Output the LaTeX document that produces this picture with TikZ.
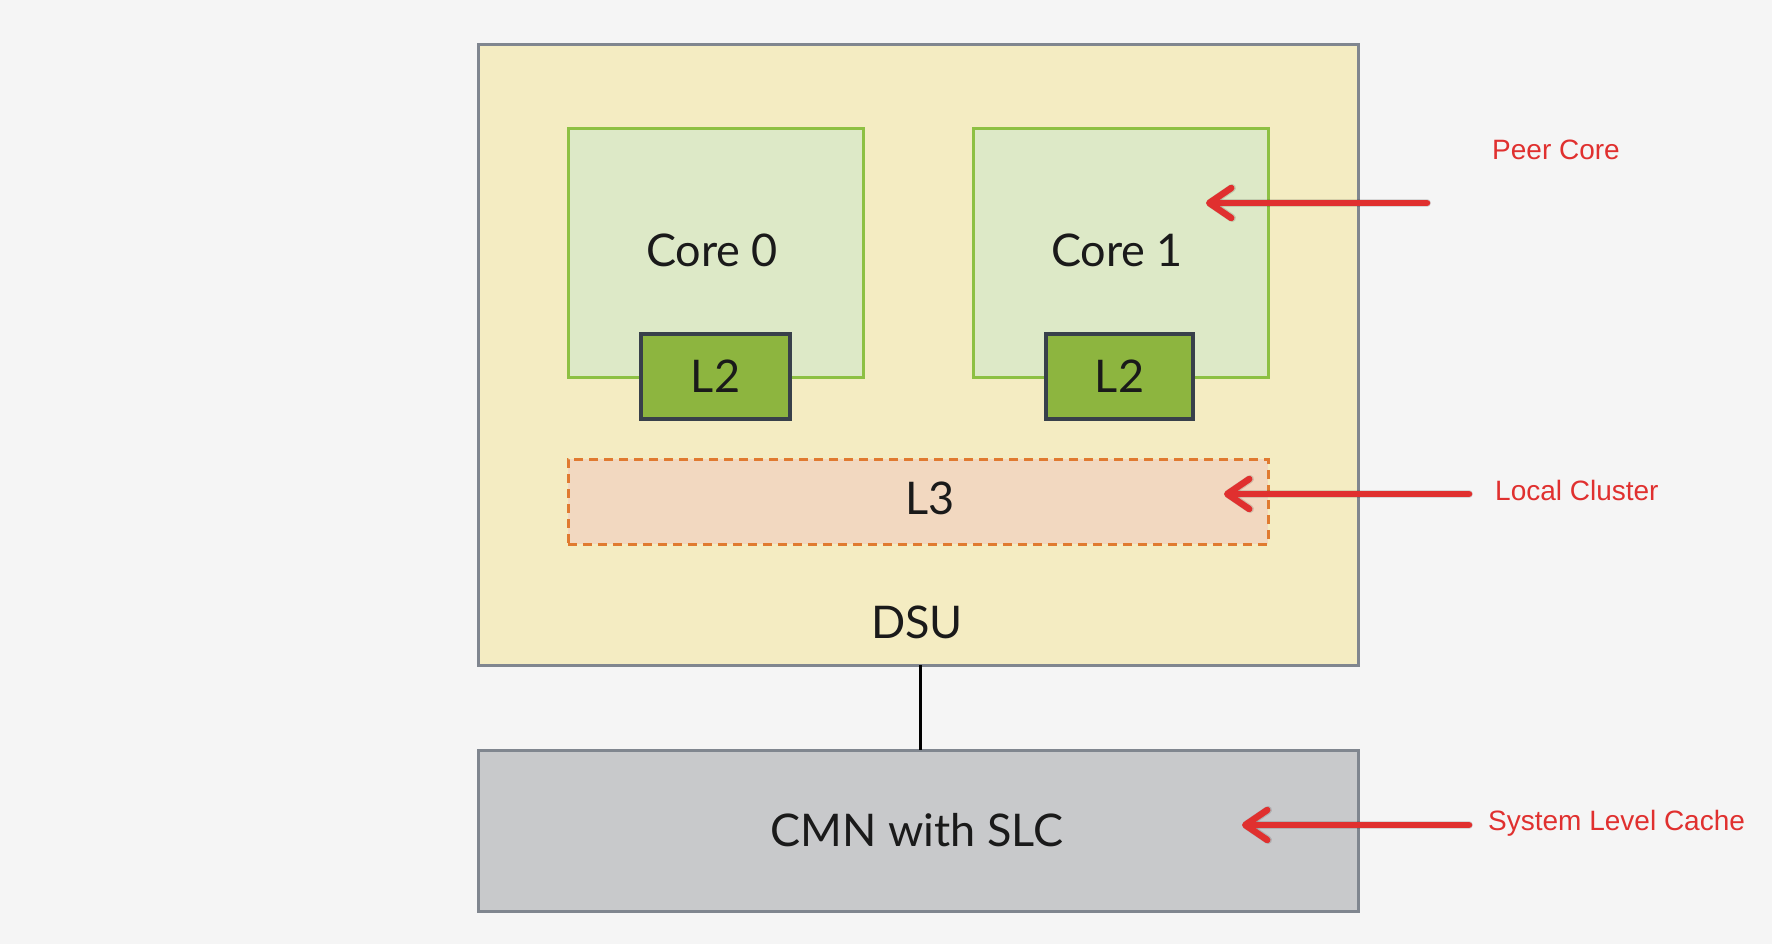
\documentclass[tikz,border=0pt]{standalone}
\usepackage{fontspec}
\setmainfont{Lato}
\newfontfamily\labelfont{Liberation Sans}
\usetikzlibrary{arrows.meta}
\definecolor{bgc}{HTML}{F5F5F5}
\definecolor{dsufill}{HTML}{F4ECC2}
\definecolor{boxline}{HTML}{80868F}
\definecolor{corefill}{HTML}{DDE9C7}
\definecolor{coreline}{HTML}{8DC043}
\definecolor{ltwofill}{HTML}{8DB53F}
\definecolor{ltwoline}{HTML}{38404A}
\definecolor{lthreefill}{HTML}{F2D8C0}
\definecolor{lthreeline}{HTML}{E07A30}
\definecolor{cmnfill}{HTML}{C8C9CB}
\definecolor{redc}{HTML}{E0302F}
\definecolor{txt}{HTML}{1A1A1A}
\tikzset{
  box/.style={draw, anchor=north west, inner sep=0pt, outer sep=0pt},
  dsubox/.style={box, fill=dsufill, draw=boxline, line width=3pt},
  corebox/.style={box, fill=corefill, draw=coreline, line width=3pt},
  ltwobox/.style={box, fill=ltwofill, draw=ltwoline, line width=3.5pt},
  lthreebox/.style={box, fill=lthreefill, draw=lthreeline, line width=3pt, dash pattern=on 9pt off 6pt},
  cmnbox/.style={box, fill=cmnfill, draw=boxline, line width=3pt},
  maintext/.style={text=txt, font=\fontsize{45}{50}\selectfont, inner sep=0pt},
  redlabel/.style={text=redc, font=\labelfont\fontsize{28}{32}\selectfont, anchor=west, inner sep=0pt},
  redarrow/.style={draw=redc, line width=6.5pt, line cap=round, -{Straight Barb[round, length=22pt, width=30pt, line width=6.5pt]}},
  shadowarrow/.style={draw=black, opacity=0.12, line width=8pt, line cap=round, -{Straight Barb[round, length=22pt, width=30pt, line width=8pt]}},
  conn/.style={draw=black, line width=3pt},
}
\begin{document}
\begin{tikzpicture}[x=1pt, y=-1pt]
\fill[bgc] (0,0) rectangle (1772,944);
\useasboundingbox (0,0) rectangle (1772,944);

\node[dsubox, minimum width=880pt, minimum height=620pt] (dsu) at (478,45) {};
\node[corebox, minimum width=295pt, minimum height=248pt] (core0) at (568,129) {};
\node[corebox, minimum width=295pt, minimum height=248pt] (core1) at (973,129) {};
\node[maintext] (core0t) at (712,250) {Core 0};
\node[maintext] (core1t) at (1117,250) {Core 1};
\node[ltwobox, minimum width=149pt, minimum height=85pt] (l2a) at (641,334) {};
\node[ltwobox, minimum width=147pt, minimum height=85pt] (l2b) at (1046,334) {};
\node[maintext] (l2at) at (l2a.center) {L2};
\node[maintext] (l2bt) at (l2b.center) {L2};
\node[lthreebox, minimum width=700pt, minimum height=85pt] (l3) at (568,459) {};
\node[maintext] (l3t) at (930,498) {L3};
\node[maintext] (dsut) at (917,622) {DSU};
\node[cmnbox, minimum width=880pt, minimum height=161pt] (cmn) at (478,750) {};
\node[maintext] (cmnt) at (917,830) {CMN with SLC};

\coordinate (dsub) at (920,665);
\coordinate (cmnt0) at (920,750);
\draw[conn] (dsub) -- (cmnt0);

\coordinate (a1s) at (1427,203);
\coordinate (a1e) at (1206,203);
\coordinate (a2s) at (1469,494);
\coordinate (a2e) at (1224,494);
\coordinate (a3s) at (1469,825);
\coordinate (a3e) at (1242,825);
\begin{scope}[shift={(2pt,-3pt)}]
\draw[shadowarrow] (a1s) -- (a1e);
\draw[shadowarrow] (a2s) -- (a2e);
\draw[shadowarrow] (a3s) -- (a3e);
\end{scope}
\draw[redarrow] (a1s) -- (a1e);
\draw[redarrow] (a2s) -- (a2e);
\draw[redarrow] (a3s) -- (a3e);

\node[redlabel] (peer) at (1492,150) {Peer Core};
\node[redlabel] (local) at (1495,490) {Local Cluster};
\node[redlabel] (slc) at (1488,823) {System Level Cache};
\end{tikzpicture}
\end{document}
